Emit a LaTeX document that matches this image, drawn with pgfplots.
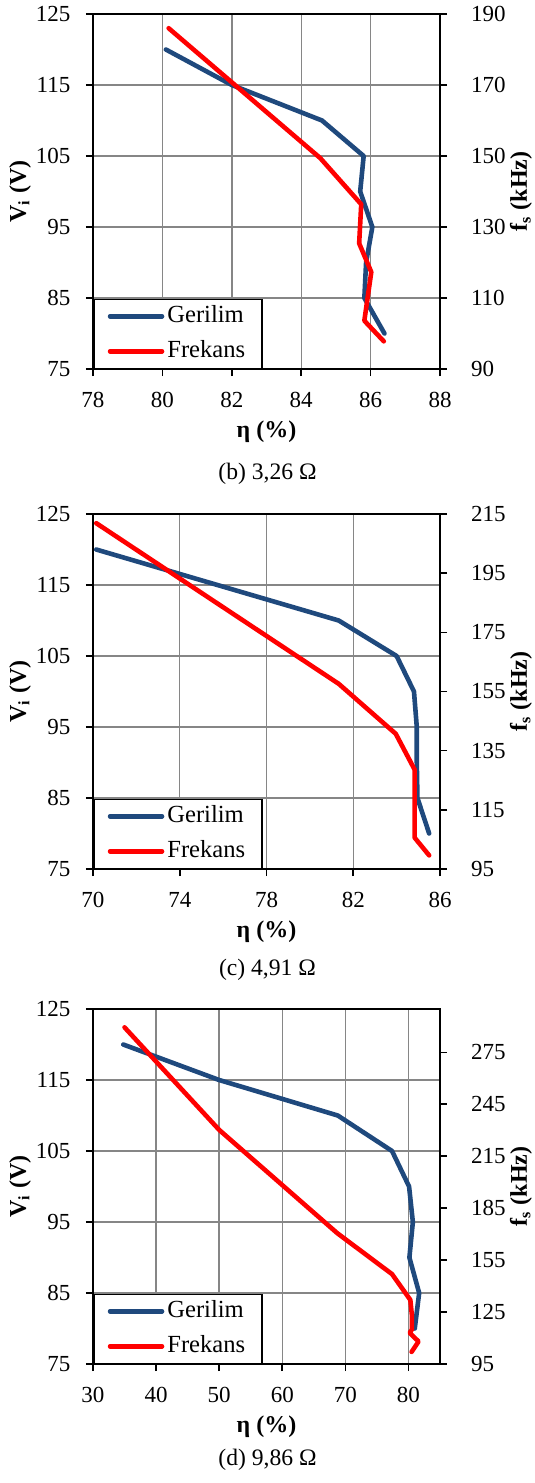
\documentclass[border=0pt]{standalone}
\usepackage{fontspec}
\setmainfont{Liberation Serif}
\usepackage{pgfplots}
\pgfplotsset{compat=1.18}
\usetikzlibrary{calc}

\definecolor{gerilim}{RGB}{31,73,125}
\definecolor{frekans}{RGB}{255,0,0}
\definecolor{gridgray}{RGB}{134,134,134}

\newcommand{\tickfont}{\fontsize{11.5}{13}\selectfont}
\newcommand{\labfont}{\fontsize{12}{14}\selectfont\bfseries}
\newcommand{\legfont}{\fontsize{12.3}{14}\selectfont}
\newcommand{\capfont}{\fontsize{11.8}{14}\selectfont}

\pgfplotsset{
  base/.style={
    scale only axis, width=173.5pt, height=177.5pt, anchor=south west,
    clip=false,
    tick align=outside, major tick length=3.5pt,
    every tick/.style={black, line width=0.8pt},
    axis line style={black, line width=1pt},
    ticklabel style={font=\tickfont},
    /pgf/number format/assume math mode=true,
  },
  lefty/.style={
    base, xtick pos=left, ytick pos=left,
    grid=major, grid style={gridgray, line width=0.7pt},
    ymin=75, ymax=125, ytick={75,85,...,125},
    xticklabel style={yshift=-4.5pt},
    yticklabel style={xshift=-4.3pt},
    xlabel={η (\%)}, ylabel={V\textsubscript{i} (V)},
    every axis x label/.style={at={($(rel axis cs:0.5,0)+(0pt,-31.5pt)$)}, anchor=center, font=\labfont},
    every axis y label/.style={at={($(rel axis cs:0,0.5)+(-36.5pt,0pt)$)}, rotate=90, anchor=center, font=\labfont},
  },
  righty/.style={
    base, axis y line*=right, axis x line=none,
    yticklabel style={xshift=8.5pt},
    ylabel={f\textsubscript{s} (kHz)},
    every axis y label/.style={at={($(rel axis cs:1,0.5)+(40.5pt,0pt)$)}, rotate=90, anchor=center, font=\labfont},
    legend style={at={(rel axis cs:0,0)}, anchor=south west, draw=black, line width=0.75pt,
      fill=white, font=\legfont, inner xsep=7pt, inner ysep=1pt, row sep=2.5pt,
      nodes={inner sep=1.5pt, text height=9pt, text depth=3pt}, cells={anchor=west}},
    legend image code/.code={\draw[#1, line cap=round] (0pt,0pt) -- (26pt,0pt);},
  },
  ger/.style={gerilim, line width=2.3pt, line cap=round, line join=round},
  fre/.style={frekans, line width=2.3pt, line cap=round, line join=round},
}

\begin{document}
\begin{tikzpicture}
\path[use as bounding box] (0pt,0pt) rectangle (267.5pt,-741.5pt);

% (b) 3,26 ohm
\begin{axis}[lefty, at={(46.5pt,-184.5pt)}, xmin=78, xmax=88, xtick={78,80,...,88}]
\addplot[ger] coordinates {(80.1,120) (82.0,115) (84.6,110) (85.8,105) (85.7,100) (86.05,95) (85.87,90) (85.82,85) (86.4,80)};
\end{axis}
\begin{axis}[righty, at={(46.5pt,-184.5pt)}, xmin=78, xmax=88, ymin=90, ymax=190, ytick={90,110,...,190}]
\addlegendimage{ger}
\addlegendentry{Gerilim}
\addplot[fre] coordinates {(80.18,186.0) (84.55,149.4) (85.73,136.4) (85.67,125.4) (86.02,117.3) (85.82,103.6) (86.38,97.8)};
\addlegendentry{Frekans}
\end{axis}
\node[font=\capfont] at (133.75pt,-237pt) {(b) 3,26 Ω};

% (c) 4,91 ohm
\begin{axis}[lefty, at={(46.5pt,-434.5pt)}, xmin=70, xmax=86, xtick={70,74,...,86}]
\addplot[ger] coordinates {(70.15,120) (81.33,110) (84.0,105) (84.8,100) (84.93,95) (84.93,90) (84.96,85) (85.5,80)};
\end{axis}
\begin{axis}[righty, at={(46.5pt,-434.5pt)}, xmin=70, xmax=86, ymin=95, ymax=215, ytick={95,115,...,215}]
\addlegendimage{ger}
\addlegendentry{Gerilim}
\addplot[fre] coordinates {(70.15,211.9) (81.33,157.6) (83.96,140.7) (84.83,128.6) (84.83,105.6) (85.5,99.6)};
\addlegendentry{Frekans}
\end{axis}
\node[font=\capfont] at (133.75pt,-485pt) {(c) 4,91 Ω};

% (d) 9,86 ohm
\begin{axis}[lefty, at={(46.5pt,-682pt)}, xmin=30, xmax=85, xtick={30,40,...,80}]
\addplot[ger] coordinates {(34.8,120) (50.0,115) (68.8,110) (77.4,105) (80.1,100) (80.7,95) (80.15,90) (81.7,85) (81.0,80)};
\end{axis}
\begin{axis}[righty, at={(46.5pt,-682pt)}, xmin=30, xmax=85, ymin=95, ymax=300, ytick={95,125,...,275}]
\addlegendimage{ger}
\addlegendentry{Gerilim}
\addplot[fre] coordinates {(35.0,289.4) (50.0,230.2) (68.7,170.6) (77.4,146.9) (80.3,132.0) (80.55,123.0) (80.55,115.0) (80.2,113.0) (81.6,108.0) (80.5,102.0)};
\addlegendentry{Frekans}
\end{axis}
\node[font=\capfont] at (133.75pt,-730pt) {(d) 9,86 Ω};
\end{tikzpicture}
\end{document}
